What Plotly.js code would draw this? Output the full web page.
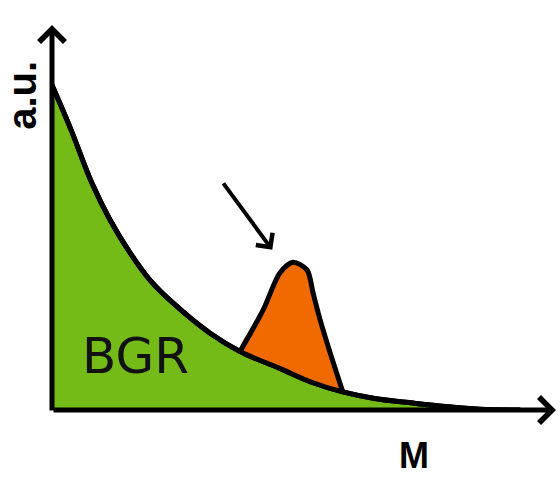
<!DOCTYPE html>
<html>
<head>
<meta charset="utf-8">
<script src="https://cdn.plot.ly/plotly-3.0.1.min.js"></script>
<style>html,body{margin:0;padding:0;background:#fff;}#chart{width:560px;height:479px;}</style>
</head>
<body>
<div id="chart"></div>
<script>
// Background (BGR) curve, arbitrary units
const bgX = [0.00, 0.38, 0.79, 1.15, 1.55, 1.94, 2.40, 3.13, 3.73, 4.52, 5.15, 5.77, 6.40, 7.16, 7.80, 8.49, 9.29];
const bgY = [8.44, 7.27, 5.90, 4.94, 4.08, 3.38, 2.78, 2.00, 1.52, 1.08, 0.72, 0.47, 0.30, 0.18, 0.09, 0.02, 0.00];
// Signal peak (top edge of orange region)
const peakX = [3.73, 4.19, 4.52, 4.78, 5.06, 5.18, 5.32, 5.52, 5.77];
const peakY = [1.52, 2.60, 3.56, 3.84, 3.64, 3.04, 2.34, 1.48, 0.47];
const labels = {y: "a.u.", x: "M", bg: "BGR"};

// Close the orange region along the background curve
const polyX = peakX.slice(), polyY = peakY.slice();
for (let i = bgX.length - 1; i >= 0; i--) {
  if (bgX[i] < peakX[peakX.length-1] && bgX[i] > peakX[0]) { polyX.push(bgX[i]); polyY.push(bgY[i]); }
}
polyX.push(peakX[0]); polyY.push(peakY[0]);

const bgLine = {color: '#000', width: 5, shape: 'spline', smoothing: 1};
const traces = [
  {x: bgX, y: bgY, type: 'scatter', mode: 'lines', fill: 'tozeroy',
   fillcolor: '#74bb18', line: bgLine, cliponaxis: false, hoverinfo: 'skip'},
  {x: polyX, y: polyY, type: 'scatter', mode: 'lines', fill: 'toself',
   fillcolor: '#f06a00', line: {color: 'rgba(0,0,0,0)', width: 0, shape: 'spline', smoothing: 0.8},
   cliponaxis: false, hoverinfo: 'skip'},
  {x: peakX, y: peakY, type: 'scatter', mode: 'lines',
   line: {color: '#000', width: 5, shape: 'spline', smoothing: 0.8},
   cliponaxis: false, hoverinfo: 'skip'},
  {x: bgX, y: bgY, type: 'scatter', mode: 'lines', line: bgLine,
   cliponaxis: false, hoverinfo: 'skip'}
];

const layout = {
  width: 560, height: 479,
  margin: {l: 52, r: 4, t: 25, b: 69},
  paper_bgcolor: '#fff', plot_bgcolor: '#fff',
  showlegend: false,
  xaxis: {range: [0, 10], visible: false, fixedrange: true},
  yaxis: {range: [0, 10], visible: false, fixedrange: true},
  shapes: [
    {type: 'line', xref: 'x', yref: 'y', x0: 0, x1: 9.4, y0: -0.17, y1: -0.17,
     line: {color: 'rgba(120,120,120,0.45)', width: 3}}
  ],
  annotations: [
    {x: 10, y: 0, xref: 'x', yref: 'y', ax: -504, ay: 0, text: '', showarrow: true,
     arrowhead: 4, arrowsize: 1, arrowwidth: 5, arrowcolor: '#000'},
    {x: 0, y: 10, xref: 'x', yref: 'y', ax: 0, ay: 387, text: '', showarrow: true,
     arrowhead: 4, arrowsize: 1, arrowwidth: 5, arrowcolor: '#000'},
    {x: 4.37, y: 4.16, xref: 'x', yref: 'y', ax: -50, ay: -68, text: '', showarrow: true,
     arrowhead: 4, arrowsize: 1, arrowwidth: 4, arrowcolor: '#000'},
    {x: -0.06, y: 0.818, xref: 'paper', yref: 'paper', xanchor: 'center', yanchor: 'middle',
     text: '<b>' + labels.y + '</b>',
     textangle: -90, showarrow: false, font: {family: 'Liberation Sans, Arial', size: 40, color: '#000'}},
    {x: 0.718, y: -0.117, xref: 'paper', yref: 'paper', xanchor: 'center', yanchor: 'middle',
     text: '<b>' + labels.x + '</b>',
     showarrow: false, font: {family: 'Liberation Sans, Arial', size: 36, color: '#000'}},
    {x: 0.165, y: 0.14, xref: 'paper', yref: 'paper', xanchor: 'center', yanchor: 'middle',
     text: labels.bg,
     showarrow: false, font: {family: 'DejaVu Sans', size: 50, color: '#111'}}
  ]
};

Plotly.newPlot('chart', traces, layout, {staticPlot: true, displayModeBar: false});
</script>
</body>
</html>
